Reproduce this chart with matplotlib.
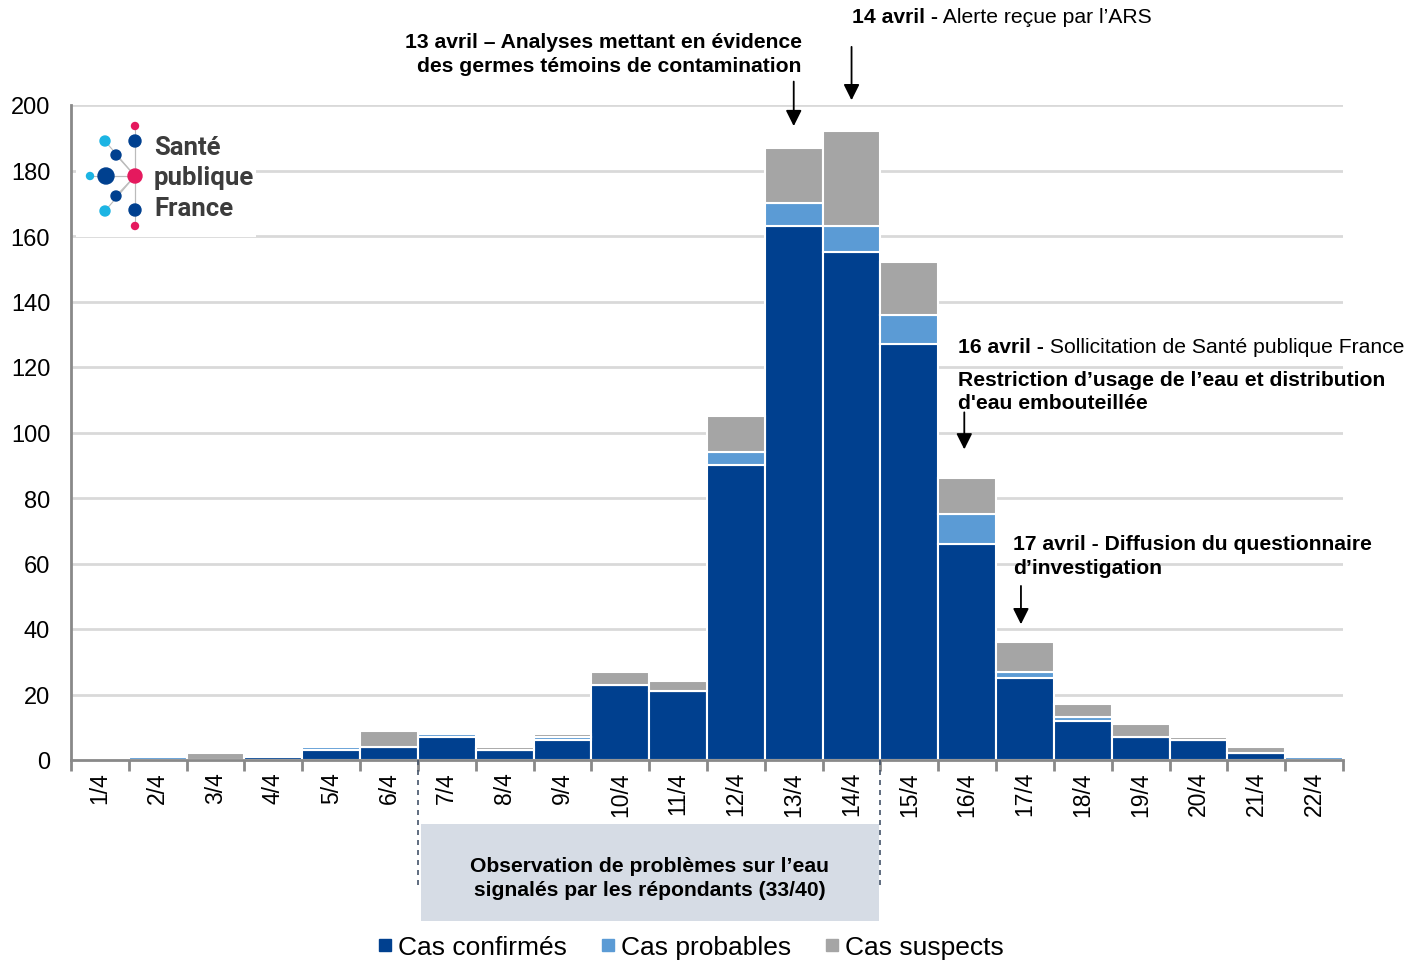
import matplotlib.pyplot as plt
from matplotlib.lines import Line2D
from matplotlib.patches import Rectangle, Circle
import numpy as np

plt.rcParams['font.family'] = ['Liberation Sans', 'DejaVu Sans']

days = ['1/4', '2/4', '3/4', '4/4', '5/4', '6/4', '7/4', '8/4', '9/4', '10/4', '11/4',
        '12/4', '13/4', '14/4', '15/4', '16/4', '17/4', '18/4', '19/4', '20/4', '21/4', '22/4']
confirmes = [0, 0, 0, 1, 3, 4, 7, 3, 6, 23, 21, 90, 163, 155, 127, 66, 25, 12, 7, 6, 2, 0]
probables = [0, 1, 0, 0, 1, 0, 1, 0, 1, 0, 0, 4, 7, 8, 9, 9, 2, 1, 0, 0, 0, 1]
suspects = [0, 0, 2, 0, 0, 5, 0, 1, 1, 4, 3, 11, 17, 29, 16, 11, 9, 4, 4, 1, 2, 0]

c_conf = '#00408F'
c_prob = '#5B9BD5'
c_susp = '#A5A5A5'

fig = plt.figure(figsize=(14.15, 9.62), dpi=100)
ax = fig.add_axes([71 / 1415, 1 - 761 / 962, 1272 / 1415, 655 / 962])

x = np.arange(len(days))
conf = np.array(confirmes)
prob = np.array(probables)
susp = np.array(suspects)
ax.bar(x, conf, width=1.0, color=c_conf, edgecolor='white', linewidth=1.5, zorder=3)
ax.bar(x, prob, width=1.0, bottom=conf, color=c_prob, edgecolor='white', linewidth=1.5, zorder=3)
ax.bar(x, susp, width=1.0, bottom=conf + prob, color=c_susp, edgecolor='white', linewidth=1.5, zorder=3)

ax.set_xlim(-0.5, len(days) - 0.5)
ax.set_ylim(0, 200)
ax.set_yticks(range(0, 201, 20))
ax.tick_params(axis='y', length=0, labelsize=17, pad=15)
ax.yaxis.grid(True, color='#D9D9D9', linewidth=2, zorder=0)
ax.set_axisbelow(True)

ax.set_xticks(x)
ax.set_xticklabels(days, rotation=90, fontsize=16.5)
ax.tick_params(axis='x', length=0, pad=8)
ax.set_xticks(np.arange(-0.5, len(days)), minor=True)
ax.tick_params(axis='x', which='minor', length=8, width=2, color='#898989', direction='out')

for s in ['top', 'right']:
    ax.spines[s].set_visible(False)
for s in ['left', 'bottom']:
    ax.spines[s].set_color('#898989')
    ax.spines[s].set_linewidth(2)
    ax.spines[s].set_zorder(4)

# annotations
arrow = dict(arrowstyle='-|>', color='black', lw=1.3, mutation_scale=24)
ax.annotate('', xy=(12, 192.7), xytext=(12, 208), arrowprops=arrow, annotation_clip=False)
ax.annotate('', xy=(13, 200.6), xytext=(13, 218.6), arrowprops=arrow, annotation_clip=False)
ax.annotate('', xy=(14.95, 94), xytext=(14.95, 107), arrowprops=arrow, annotation_clip=False)
ax.annotate('', xy=(15.93, 40.6), xytext=(15.93, 54), arrowprops=arrow, annotation_clip=False)

fs = 15.2
ax.text(12.14, 215.7, '13 avril – Analyses mettant en évidence\ndes germes témoins de contamination',
        ha='right', va='center', fontsize=fs, fontweight='bold', multialignment='right',
        linespacing=1.32, clip_on=False)

t14 = ax.text(13.01, 226.9, '14 avril -', ha='left', va='center', fontsize=fs,
              fontweight='bold', clip_on=False)
ax.annotate(' Alerte reçue par l’ARS', xy=(1, 0), xycoords=t14, va='bottom', ha='left', fontsize=fs)

t16 = ax.text(14.84, 126.4, '16 avril -', ha='left', va='center', fontsize=fs,
              fontweight='bold', clip_on=False)
ax.annotate(' Sollicitation de Santé publique France', xy=(1, 0), xycoords=t16,
            va='bottom', ha='left', fontsize=fs)
ax.text(14.84, 112.7, 'Restriction d’usage de l’eau et distribution\nd\'eau embouteillée',
        ha='left', va='center', fontsize=fs, fontweight='bold', linespacing=1.32, clip_on=False)
ax.text(15.79, 62.4, '17 avril - Diffusion du questionnaire\nd’investigation',
        ha='left', va='center', fontsize=fs, fontweight='bold', linespacing=1.32, clip_on=False)

# observation box below the axis
ax.add_patch(Rectangle((5.55, -49.2), 7.92, 29.7, facecolor='#D6DCE5', edgecolor='none',
                       clip_on=False, zorder=1))
ax.text(9.51, -35.9, 'Observation de problèmes sur l’eau\nsignalés par les répondants (33/40)',
        ha='center', va='center', fontsize=fs, fontweight='bold', linespacing=1.35, clip_on=False)
for xv in [5.5, 13.5]:
    ax.plot([xv, xv], [0, -39.4], color='#44546A', lw=1.2, ls=(0, (3, 3)), clip_on=False, zorder=5)

# legend
handles = [Line2D([], [], marker='s', ls='none', color=c, markersize=9)
           for c in [c_conf, c_prob, c_susp]]
fig.legend(handles, ['Cas confirmés', 'Cas probables', 'Cas suspects'], loc='center',
           bbox_to_anchor=(688 / 1415, 1 - 948 / 962), ncol=3, frameon=False, fontsize=19,
           handletextpad=0.0, columnspacing=1.05, handlelength=1.0)

# logo
lg = fig.add_axes([0, 0, 1, 1], zorder=10)
lg.set_xlim(0, 1415)
lg.set_ylim(962, 0)
lg.axis('off')
lg.patch.set_alpha(0)
lg.add_patch(Rectangle((76, 113), 180, 125, facecolor='white', edgecolor='none'))
hub = (135, 177)
dots = [((135, 127), 3.5, '#E5195E'), ((105, 142), 5, '#1CB4E3'), ((135, 142), 6, '#00408F'),
        ((116, 156), 5, '#00408F'), ((90, 177), 3.5, '#1CB4E3'), ((106, 177), 8, '#00408F'),
        ((116, 197), 5, '#00408F'), ((105, 212), 5, '#1CB4E3'), ((135, 211), 6, '#00408F'),
        ((135, 227), 3.5, '#E5195E')]
for (px, py), r, c in dots:
    lg.plot([hub[0], px], [hub[1], py], color='#BBBBBB', lw=0.8, zorder=1)
for (px, py), r, c in dots:
    lg.add_patch(Circle((px, py), r, color=c, zorder=2))
lg.add_patch(Circle(hub, 7, color='#E5195E', zorder=2))
for word, py in [('Santé', 148), ('publique', 178), ('France', 209)]:
    lg.text(154, py, word, fontsize=18.5, family='Roboto', fontweight='bold',
            color='#3C3C3C', ha='left', va='center')

fig.savefig('out.png', dpi=100)
